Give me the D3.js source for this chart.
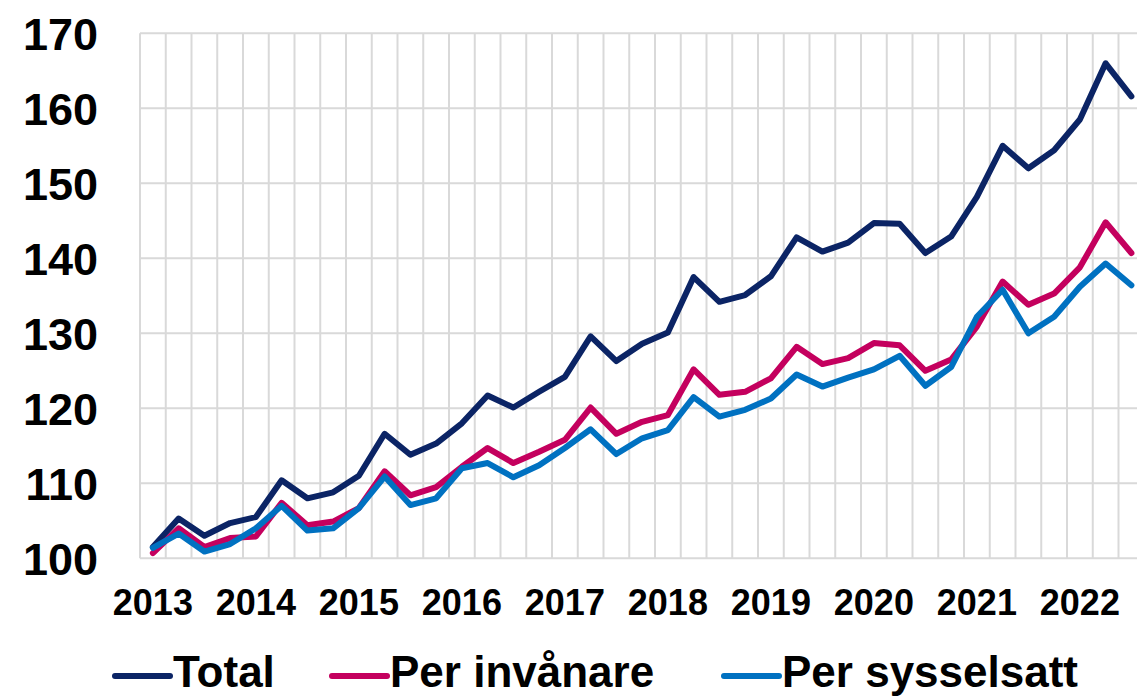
<!DOCTYPE html>
<html>
<head>
<meta charset="utf-8">
<script src="https://cdn.jsdelivr.net/npm/d3@7"></script>
<style>
  html, body { margin: 0; padding: 0; background: #ffffff; }
  svg { display: block; }
  text { font-family: "Liberation Sans", Arial, sans-serif; font-weight: bold; fill: #000; }
</style>
</head>
<body>
<svg id="chart" width="1137" height="696"></svg>
<script>
// Quarterly index series, 2013 Q1 – 2022 Q3
const quarters = [];
for (let yr = 2013; yr <= 2022; yr++) {
  for (let q = 1; q <= 4; q++) {
    if (yr === 2022 && q === 4) break;
    quarters.push(yr + " K" + q);
  }
}

const total = [101.5, 105.3, 103.0, 104.7, 105.5, 110.4, 108.0, 108.8, 111.0, 116.6,
               113.8, 115.3, 118.0, 121.7, 120.1, 122.2, 124.2, 129.6, 126.3, 128.6,
               130.1, 137.5, 134.2, 135.1, 137.6, 142.8, 140.9, 142.1, 144.7, 144.6,
               140.7, 142.9, 148.2, 155.0, 152.0, 154.4, 158.5, 166.0, 161.6];

const perInvanare = [100.7, 104.0, 101.5, 102.7, 102.9, 107.4, 104.4, 104.9, 106.7, 111.6,
                     108.4, 109.5, 112.2, 114.7, 112.7, 114.2, 115.8, 120.1, 116.6, 118.2,
                     119.1, 125.2, 121.8, 122.2, 124.0, 128.2, 125.9, 126.7, 128.7, 128.4,
                     125.0, 126.5, 130.9, 136.9, 133.8, 135.3, 138.8, 144.8, 140.7];

const perSysselsatt = [101.4, 103.3, 100.9, 101.9, 104.0, 107.0, 103.7, 104.0, 106.7, 110.9,
                       107.1, 108.0, 112.0, 112.7, 110.8, 112.4, 114.7, 117.2, 113.9, 116.0,
                       117.1, 121.5, 118.9, 119.8, 121.3, 124.5, 122.9, 124.1, 125.2, 127.0,
                       123.0, 125.5, 132.2, 135.8, 130.0, 132.2, 136.2, 139.3, 136.4];

const seriesNames = ["Total", "Per invånare", "Per sysselsatt"];
const seriesColors = ["#0b2465", "#c4005e", "#0071c1"];
const yTicks = [100, 110, 120, 130, 140, 150, 160, 170];
const yearLabels = ["2013", "2014", "2015", "2016", "2017", "2018", "2019", "2020", "2021", "2022"];

const series = [total, perInvanare, perSysselsatt];

const svg = d3.select("#chart");

// Plot area (the category axis runs slightly past the right edge of the canvas)
const plotLeft = 140, plotTop = 33.3, plotBottom = 558.3, band = 25.75;
const plotRight = plotLeft + band * quarters.length;
const x = d3.scaleBand().domain(quarters).range([plotLeft, plotRight]).padding(0);
const y = d3.scaleLinear().domain([100, 170]).range([plotBottom, plotTop]);

const grid = svg.append("g").attr("class", "grid");
// Vertical gridlines between categories
grid.selectAll("line.v")
  .data(d3.range(quarters.length + 1))
  .join("line")
  .attr("class", "v")
  .attr("x1", i => plotLeft + i * x.bandwidth())
  .attr("x2", i => plotLeft + i * x.bandwidth())
  .attr("y1", plotTop).attr("y2", plotBottom)
  .attr("stroke", "#d9d9d9").attr("stroke-width", 2);
// Horizontal gridlines
grid.selectAll("line.h")
  .data(yTicks)
  .join("line")
  .attr("class", "h")
  .attr("x1", plotLeft).attr("x2", plotRight)
  .attr("y1", d => y(d)).attr("y2", d => y(d))
  .attr("stroke", "#d9d9d9").attr("stroke-width", 2);

// Y axis labels
const yAxis = d3.axisLeft(y).tickValues(yTicks).tickSize(0).tickPadding(0);
const yg = svg.append("g").attr("transform", "translate(98,0)").call(yAxis);
yg.select(".domain").remove();
yg.selectAll("text")
  .attr("font-size", 45)
  .attr("font-family", "Liberation Sans, Arial, sans-serif")
  .attr("font-weight", "bold")
  .attr("fill", "#000")
  .attr("dy", "0.35em");

// X axis labels: one per year, at the first quarter
const q1 = quarters.filter(q => q.endsWith("K1"));
const xAxis = d3.axisBottom(x).tickValues(q1)
  .tickFormat((d) => yearLabels[q1.indexOf(d)])
  .tickSize(0).tickPadding(0);
const xg = svg.append("g").attr("transform", "translate(0,615)").call(xAxis);
xg.select(".domain").remove();
xg.selectAll("text")
  .attr("font-size", 36)
  .attr("font-family", "Liberation Sans, Arial, sans-serif")
  .attr("font-weight", "bold")
  .attr("fill", "#000")
  .attr("y", 0).attr("dy", 0);

// Series lines
const line = d3.line()
  .x((d, i) => x(quarters[i]) + x.bandwidth() / 2)
  .y(d => y(d));

svg.append("g").selectAll("path")
  .data(series)
  .join("path")
  .attr("d", d => line(d))
  .attr("fill", "none")
  .attr("stroke", (d, i) => seriesColors[i])
  .attr("stroke-width", 6)
  .attr("stroke-linejoin", "round")
  .attr("stroke-linecap", "round");

// Legend
const legendX = [115, 332, 724];
const legend = svg.append("g");
const items = legend.selectAll("g")
  .data(seriesNames)
  .join("g")
  .attr("transform", (d, i) => `translate(${legendX[i]},676)`);
items.append("line")
  .attr("x1", 0).attr("x2", 55).attr("y1", 0).attr("y2", 0)
  .attr("stroke", (d, i) => seriesColors[i])
  .attr("stroke-width", 6)
  .attr("stroke-linecap", "round");
items.append("text")
  .attr("x", 58).attr("y", 11)
  .attr("font-size", 44)
  .text(d => d);
</script>
</body>
</html>
